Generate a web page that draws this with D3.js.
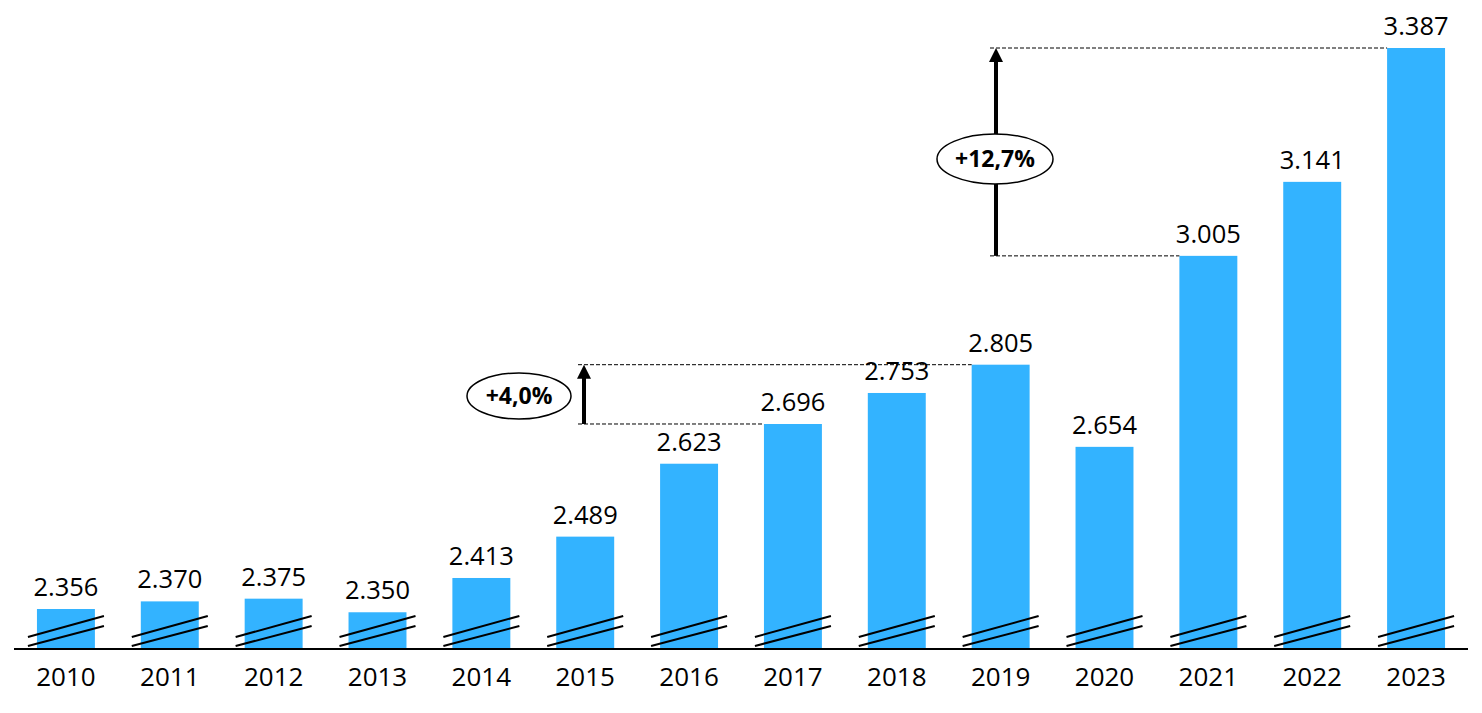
<!DOCTYPE html>
<html><head><meta charset="utf-8">
<script src="https://cdn.jsdelivr.net/npm/d3@7"></script>
<style>html,body{margin:0;padding:0;background:#fff;}svg{display:block;}</style>
</head><body>
<svg id="chart" width="1482" height="713"></svg>
<script>
const years = ["2010","2011","2012","2013","2014","2015","2016","2017","2018","2019","2020","2021","2022","2023"];
const values = [2.356,2.370,2.375,2.350,2.413,2.489,2.623,2.696,2.753,2.805,2.654,3.005,3.141,3.387];
const yDomain = [2.2825, 3.387];
// annotations: [from year, to year, label]
const annFrom = ["2017","2021"];
const annTo = ["2019","2023"];
const annLabels = ["+4,0%","+12,7%"];

const svg = d3.select("#chart");
const font = "'Open Sans', sans-serif";
const x = d3.scaleBand().domain(years).range([14,1468]).paddingInner(0.442).paddingOuter(0.221);
const y = d3.scaleLinear().domain(yDomain).range([649,48]);
const base = y(yDomain[0]);
const blue = "#33b3ff";

// bars
svg.selectAll("rect.bar").data(years).join("rect")
  .attr("x", d=>x(d)).attr("width", x.bandwidth())
  .attr("y", (d,i)=>y(values[i])).attr("height",(d,i)=>base-y(values[i]))
  .attr("fill", blue);

// value labels
const fmt = d3.format(".3f");
svg.selectAll("text.val").data(years).join("text")
  .attr("x", d=>x(d)+x.bandwidth()/2).attr("y",(d,i)=>y(values[i])-13)
  .attr("text-anchor","middle").attr("font-family",font).attr("font-size",25.5)
  .attr("fill","#000").text((d,i)=>fmt(values[i]));

// break marks
years.forEach(d=>{
  const cx = x(d)+x.bandwidth()/2;
  [[637,616],[646,626]].forEach(([y1,y2])=>{
    svg.append("line").attr("x1",cx-38).attr("x2",cx+38).attr("y1",y1).attr("y2",y2)
      .attr("stroke","#000").attr("stroke-width",2);
  });
});

// x axis
const axis = svg.append("g").attr("transform",`translate(0,${base})`).call(d3.axisBottom(x).tickSize(0).tickPadding(19));
axis.select(".domain").attr("d","M14,0H1468").attr("stroke","#000").attr("stroke-width",2);
axis.selectAll("text").attr("font-family",font).attr("font-size",26).attr("fill","#000").attr("dy","0.71em");

// annotations
const arrowX = [584, 996];
const ellipse = [{cx:519,cy:396,rx:52,ry:23},{cx:995,cy:159,rx:58,ry:25}];

annFrom.forEach((f,k)=>{
  const t = annTo[k];
  const yLo = y(values[years.indexOf(f)]);
  const yHi = y(values[years.indexOf(t)]);
  const ax = arrowX[k];
  const xs = ax - 6;
  svg.append("line").attr("x1",xs).attr("x2",x(f)).attr("y1",yLo).attr("y2",yLo)
    .attr("stroke","#000").attr("stroke-width",1).attr("stroke-dasharray","4,2");
  svg.append("line").attr("x1",xs).attr("x2",x(t)).attr("y1",yHi).attr("y2",yHi)
    .attr("stroke","#000").attr("stroke-width",1).attr("stroke-dasharray","4,2");
  // shaft
  svg.append("line").attr("x1",ax).attr("x2",ax).attr("y1",yLo).attr("y2",yHi+12)
    .attr("stroke","#000").attr("stroke-width",4);
  svg.append("path").attr("d",`M${ax-7},${yHi+14}L${ax},${yHi}L${ax+7},${yHi+14}Z`).attr("fill","#000");
  const e = ellipse[k];
  svg.append("ellipse").attr("cx",e.cx).attr("cy",e.cy).attr("rx",e.rx).attr("ry",e.ry)
    .attr("fill","#fff").attr("stroke","#000").attr("stroke-width",1.5);
  svg.append("text").attr("x",e.cx).attr("y",e.cy).attr("dy","0.36em").attr("text-anchor","middle")
    .attr("font-family",font).attr("font-size",23).attr("font-weight","bold").text(annLabels[k]);
});
</script>
</body></html>
